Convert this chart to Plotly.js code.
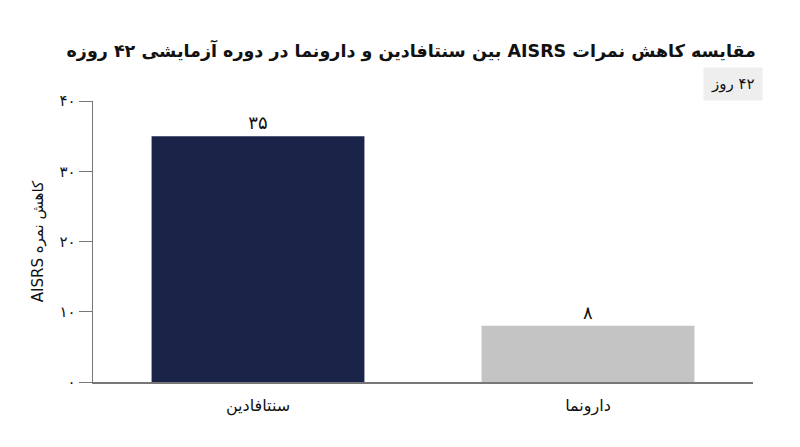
<!DOCTYPE html>
<html>
<head>
<meta charset="utf-8">
<script src="https://cdn.plot.ly/plotly-3.0.1.min.js"></script>
<style>
  html, body { margin: 0; padding: 0; background: #fff; }
  #chart { width: 800px; height: 447px; }
</style>
</head>
<body>
<div id="chart"></div>
<script>
const categories = ["سنتافادین", "دارونما"];
const reduction = [35, 8];
const barLabels = ["۳۵", "۸"];
const barColors = ["#1a2448", "#c4c4c4"];
const yTickVals = [0, 10, 20, 30, 40];
const yTickText = ["۰", "۱۰", "۲۰", "۳۰", "۴۰"];

const font = "DejaVu Sans, sans-serif";
// force right-to-left layout for mixed Persian/Latin strings
const rtl = s => "\u202B" + s + "\u202C";

Plotly.newPlot('chart', [{
  x: categories,
  y: reduction,
  type: 'bar',
  width: 0.645,
  marker: { color: barColors },
  text: barLabels,
  textposition: 'outside',
  textfont: { family: font, size: 18, color: '#111' },
  cliponaxis: false,
  hoverinfo: 'none'
}], {
  width: 800,
  height: 447,
  margin: { l: 93, r: 47, t: 101, b: 65 },
  paper_bgcolor: '#fff',
  plot_bgcolor: '#fff',
  showlegend: false,
  font: { family: font, color: '#111' },
  title: {
    text: "<b>" + rtl("مقایسه کاهش نمرات AISRS بین سنتافادین و دارونما در دوره آزمایشی ۴۲ روزه") + "</b>",
    font: { family: font, size: 17.5, color: '#111' },
    x: 0.514, xanchor: 'center',
    y: 0.887, yanchor: 'middle'
  },
  xaxis: {
    range: [-0.5, 1.5],
    showline: true,
    linecolor: '#777',
    linewidth: 1.5,
    ticks: '',
    ticklabelstandoff: 8,
    showgrid: false,
    zeroline: false,
    tickfont: { family: font, size: 16, color: '#111' }
  },
  yaxis: {
    range: [0, 40],
    tickvals: yTickVals,
    ticktext: yTickText,
    showline: true,
    linecolor: '#777',
    linewidth: 1.5,
    ticks: 'outside',
    ticklen: 13,
    tickcolor: '#777',
    showgrid: false,
    zeroline: false,
    tickfont: { family: font, size: 15, color: '#111' },
    title: {
      text: rtl("کاهش نمره AISRS"),
      font: { family: font, size: 15, color: '#111' },
      standoff: 12
    }
  },
  annotations: [{
    text: rtl("۴۲ روز"),
    xref: 'paper', yref: 'paper',
    x: 1.015, y: 1.06,
    xanchor: 'right', yanchor: 'middle',
    showarrow: false,
    bgcolor: '#eeeeee',
    borderpad: 7,
    font: { family: font, size: 15, color: '#111' }
  }]
}, { displayModeBar: false, staticPlot: true });
</script>
</body>
</html>
